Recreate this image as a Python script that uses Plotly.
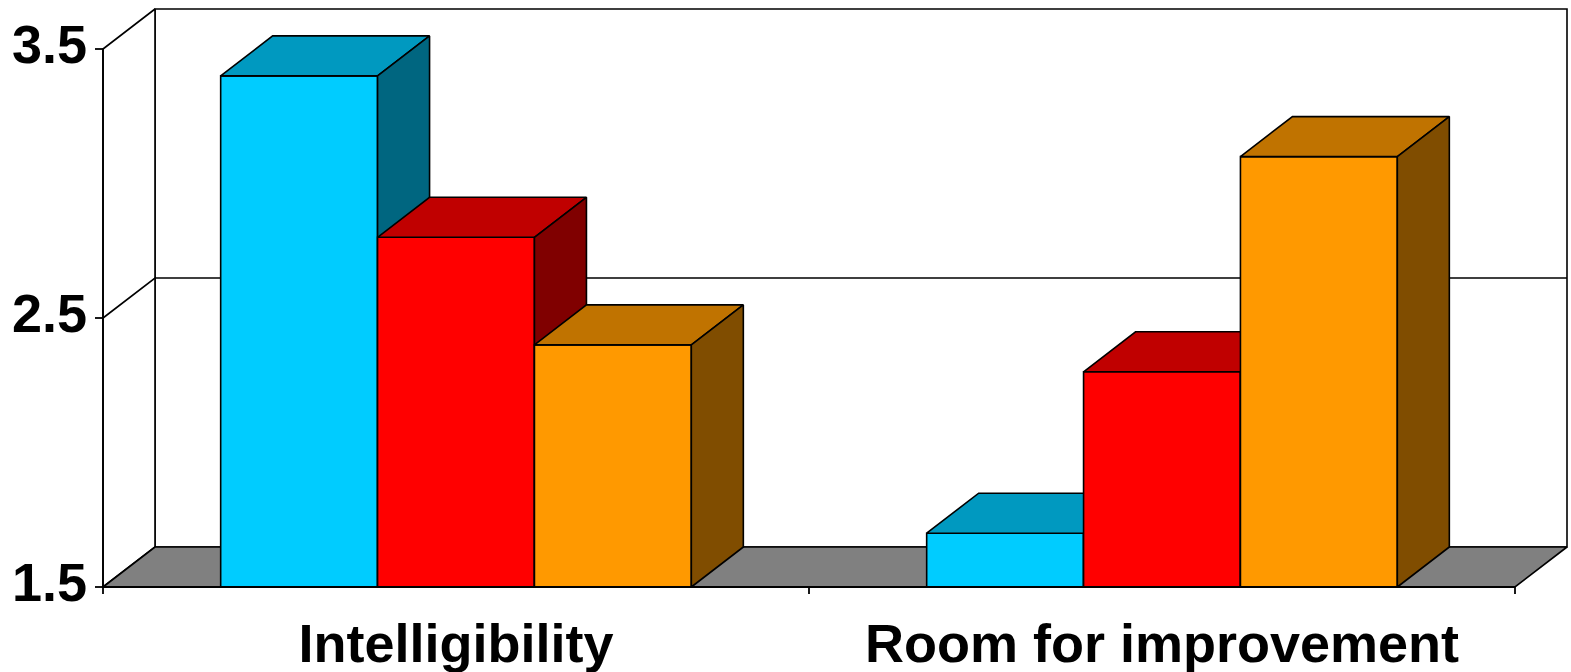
import plotly.graph_objects as go

# ---------------- data ----------------
categories = ["Intelligibility", "Room for improvement"]
series_names = ["Series 1", "Series 2", "Series 3"]
values_cyan = [3.4, 1.7]
values_red = [2.8, 2.3]
values_orange = [2.4, 3.1]
y_ticks = [1.5, 2.5, 3.5]
y_tick_labels = ["1.5", "2.5", "3.5"]

# ---------------- style ----------------
W, H = 1571, 672
PX_X = 706.0   # pixels per category unit
PX_Y = 269.0   # pixels per value unit
LEFT_PX, BASE_PX = 103, 587
DX = 52 / PX_X   # depth offset (x units)
DY = 40 / PX_Y   # depth offset (y units)
BAR_W = 2 / 9
Y_MIN, Y_MAX = y_ticks[0], y_ticks[-1]
X_MIN, X_MAX = -0.5, len(categories) - 0.5

face_colors = [
    ("#00CCFF", "#0099C0", "#006680"),
    ("#FF0000", "#C00000", "#800000"),
    ("#FF9900", "#C07300", "#804D00"),
]
series_values = [values_cyan, values_red, values_orange]
FONT = dict(family="Liberation Sans, Arial, sans-serif", size=54, color="black", weight="bold")

fig = go.Figure()


def poly(xs, ys, fill=None, width=1.6):
    closed = fill is not None
    fig.add_trace(go.Scatter(
        x=list(xs) + ([xs[0]] if closed else []),
        y=list(ys) + ([ys[0]] if closed else []),
        mode="lines",
        fill="toself" if closed else None,
        fillcolor=fill,
        line=dict(color="black", width=width),
        hoverinfo="skip", showlegend=False,
    ))


# back wall and side wall
poly([X_MIN + DX, X_MAX + DX, X_MAX + DX, X_MIN + DX],
     [Y_MIN + DY, Y_MIN + DY, Y_MAX + DY, Y_MAX + DY], fill="white")
poly([X_MIN, X_MIN + DX, X_MIN + DX, X_MIN],
     [Y_MIN, Y_MIN + DY, Y_MAX + DY, Y_MAX], fill="white")
# gridlines
for t in y_ticks[1:-1]:
    poly([X_MIN, X_MIN + DX, X_MAX + DX], [t, t + DY, t + DY])
# floor
poly([X_MIN, X_MAX, X_MAX + DX, X_MIN + DX],
     [Y_MIN, Y_MIN, Y_MIN + DY, Y_MIN + DY], fill="#808080")

# bars
for ci in range(len(categories)):
    for si, vals in enumerate(series_values):
        v = vals[ci]
        x0 = ci + (si - 1.5) * BAR_W
        x1 = x0 + BAR_W
        front, top, side = face_colors[si]
        poly([x0, x1, x1, x0], [Y_MIN, Y_MIN, v, v], fill=front)
        poly([x0, x1, x1 + DX, x0 + DX], [v, v, v + DY, v + DY], fill=top)
        poly([x1, x1 + DX, x1 + DX, x1], [Y_MIN, Y_MIN + DY, v + DY, v], fill=side)

# front axis lines
poly([X_MIN, X_MIN], [Y_MIN, Y_MAX], width=1.8)
poly([X_MIN, X_MAX], [Y_MIN, Y_MIN], width=1.8)
# y ticks
tick_x = 8 / PX_X
for t in y_ticks:
    poly([X_MIN - tick_x, X_MIN], [t, t], width=1.8)
# x ticks at category boundaries
tick_y = 7 / PX_Y
for b in range(len(categories) + 1):
    xb = X_MIN + b
    poly([xb, xb], [Y_MIN, Y_MIN - tick_y], width=1.8)

# tick labels
fig.add_trace(go.Scatter(
    x=[X_MIN - 16 / PX_X] * len(y_ticks), y=y_ticks, text=y_tick_labels,
    mode="text", textposition="middle left", textfont=FONT,
    hoverinfo="skip", showlegend=False, cliponaxis=False,
))
fig.add_trace(go.Scatter(
    x=list(range(len(categories))), y=[Y_MIN - 61 / PX_Y] * len(categories),
    text=categories, mode="text", textposition="middle center", textfont=FONT,
    hoverinfo="skip", showlegend=False, cliponaxis=False,
))

fig.update_layout(
    width=W, height=H,
    margin=dict(l=0, r=0, t=0, b=0),
    paper_bgcolor="white", plot_bgcolor="white",
    xaxis=dict(visible=False, range=[X_MIN - LEFT_PX / PX_X, X_MIN + (W - LEFT_PX) / PX_X]),
    yaxis=dict(visible=False, range=[Y_MIN - (H - BASE_PX) / PX_Y, Y_MIN + BASE_PX / PX_Y]),
    showlegend=False,
)

fig.write_html("out.html")
